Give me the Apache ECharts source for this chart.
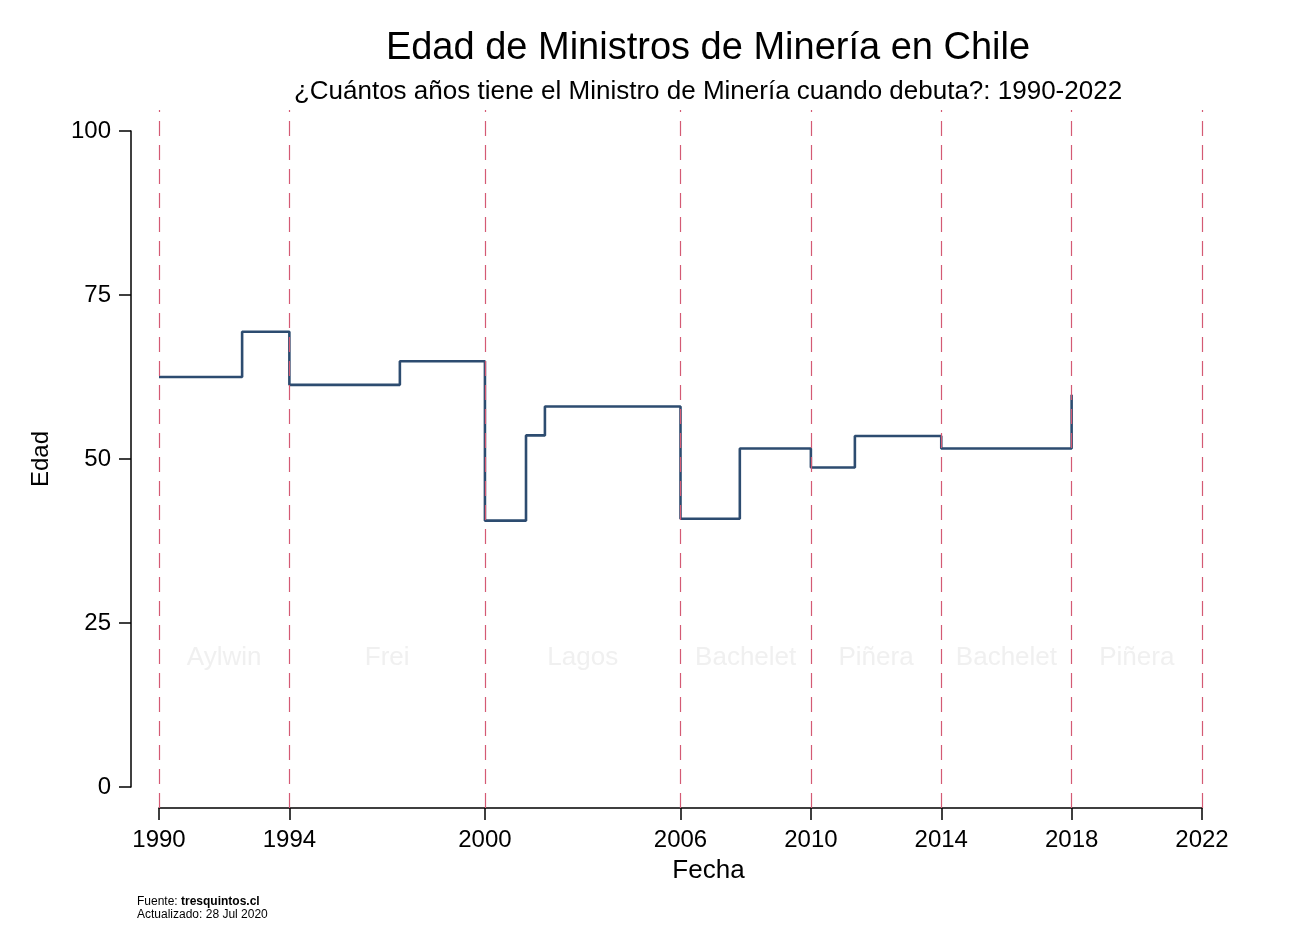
<!DOCTYPE html>
<html>
<head>
<meta charset="utf-8">
<script src="https://cdn.jsdelivr.net/npm/echarts@6/dist/echarts.min.js"></script>
<style>
  html, body { margin: 0; padding: 0; background: #fff; }
  #chart { width: 1306px; height: 950px; }
</style>
</head>
<body>
<div id="chart"></div>
<script>
// fechas de debut (año decimal) y edad del ministro
var debutDates = [1990, 1992.55, 1994, 1997.39, 2000, 2001.26, 2001.84, 2006, 2007.82, 2010, 2011.35, 2014, 2018];
var debutAges = [62.5, 69.4, 61.3, 64.9, 40.6, 53.6, 58.0, 40.9, 51.6, 48.7, 53.5, 51.6, 59.8];

// periodos presidenciales
var termStarts = [1990, 1994, 2000, 2006, 2010, 2014, 2018];
var termEnd = 2022;
var presidents = ['Aylwin', 'Frei', 'Lagos', 'Bachelet', 'Piñera', 'Bachelet', 'Piñera'];

// ticks
var xTicks = [1990, 1994, 2000, 2006, 2010, 2014, 2018, 2022];
var yTicks = [0, 25, 50, 75, 100];

var FONT = '"Liberation Sans", Arial, Helvetica, sans-serif';
var LABEL_AGE = 19.7;
var RED = '#d45a74';

var lineData = debutDates.map(function (d, i) { return [d, debutAges[i]]; });

var termLines = termStarts.concat([termEnd]).map(function (y) {
    return {xAxis: y, lineStyle: {color: RED, width: 1.2, type: [15, 9]}};
});

var presidentLabels = presidents.map(function (name, i) {
    var end = i + 1 < termStarts.length ? termStarts[i + 1] : termEnd;
    return {name: name, value: [(termStarts[i] + end) / 2, LABEL_AGE]};
});

var chart = echarts.init(document.getElementById('chart'));
var option = {
    backgroundColor: '#ffffff',
    animation: false,
    textStyle: {fontFamily: FONT},
    title: [
        {
            text: 'Edad de Ministros de Minería en Chile',
            left: 708, top: 30, padding: 0, textAlign: 'center',
            textStyle: {fontFamily: FONT, fontSize: 38, fontWeight: 'normal', color: '#000'}
        },
        {
            text: '¿Cuántos años tiene el Ministro de Minería cuando debuta?: 1990-2022',
            left: 708, top: 79, padding: 0, textAlign: 'center',
            textStyle: {fontFamily: FONT, fontSize: 26, fontWeight: 'normal', color: '#000'}
        }
    ],
    grid: [
        {left: 159, right: 104, top: 131, height: 656},
        {left: 159, right: 104, top: 110, height: 698}
    ],
    xAxis: [
        {gridIndex: 0, type: 'value', min: 1990, max: 2022, show: false},
        {
            gridIndex: 1, type: 'value', min: 1990, max: 2022,
            name: 'Fecha', nameLocation: 'middle', nameGap: 50,
            nameTextStyle: {fontFamily: FONT, fontSize: 26, color: '#000', padding: [0, 0, 0, 56]},
            axisLine: {show: true, lineStyle: {color: '#000', width: 1.5}},
            axisTick: {show: true, length: 12, customValues: xTicks, lineStyle: {color: '#000', width: 1.5}},
            axisLabel: {
                customValues: xTicks, margin: 20, fontFamily: FONT, fontSize: 24, color: '#000',
                formatter: function (v) { return String(v); }
            },
            splitLine: {show: false}
        }
    ],
    yAxis: [
        {
            gridIndex: 0, type: 'value', min: 0, max: 100, interval: 25, offset: 28,
            name: 'Edad', nameLocation: 'middle', nameGap: 78,
            nameTextStyle: {fontFamily: FONT, fontSize: 24, color: '#000'},
            axisLine: {show: true, lineStyle: {color: '#000', width: 1.5}},
            axisTick: {show: true, length: 12, customValues: yTicks, lineStyle: {color: '#000', width: 1.5}},
            axisLabel: {customValues: yTicks, margin: 20, fontFamily: FONT, fontSize: 24, color: '#000'},
            splitLine: {show: false}
        },
        {gridIndex: 1, type: 'value', min: 0, max: 1, show: false}
    ],
    series: [
        {
            name: 'Periodos',
            type: 'line',
            xAxisIndex: 1, yAxisIndex: 1,
            data: [],
            color: RED,
            silent: true,
            markLine: {
                silent: true,
                symbol: 'none',
                label: {show: false},
                lineStyle: {color: RED, width: 1.2, type: [15, 9]},
                data: termLines
            }
        },
        {
            name: 'Presidentes',
            type: 'scatter',
            xAxisIndex: 0, yAxisIndex: 0,
            symbolSize: 0,
            silent: true,
            data: presidentLabels,
            label: {
                show: true, position: 'inside', formatter: '{b}',
                fontFamily: FONT, fontSize: 26, color: '#ececec'
            }
        },
        {
            name: 'Edad',
            type: 'line',
            xAxisIndex: 0, yAxisIndex: 0,
            step: 'end',
            symbol: 'none',
            data: lineData,
            lineStyle: {color: '#2d4c70', width: 2.6}
        }
    ],
    graphic: [
        {
            type: 'text', left: 137, top: 896,
            style: {
                text: '{n|Fuente: }{b|tresquintos.cl}\n{n|Actualizado: 28 Jul 2020}',
                rich: {
                    n: {fontFamily: FONT, fontSize: 12, color: '#000', lineHeight: 13},
                    b: {fontFamily: FONT, fontSize: 12, fontWeight: 'bold', color: '#000', lineHeight: 13}
                }
            }
        }
    ]
};
chart.setOption(option);
</script>
</body>
</html>
